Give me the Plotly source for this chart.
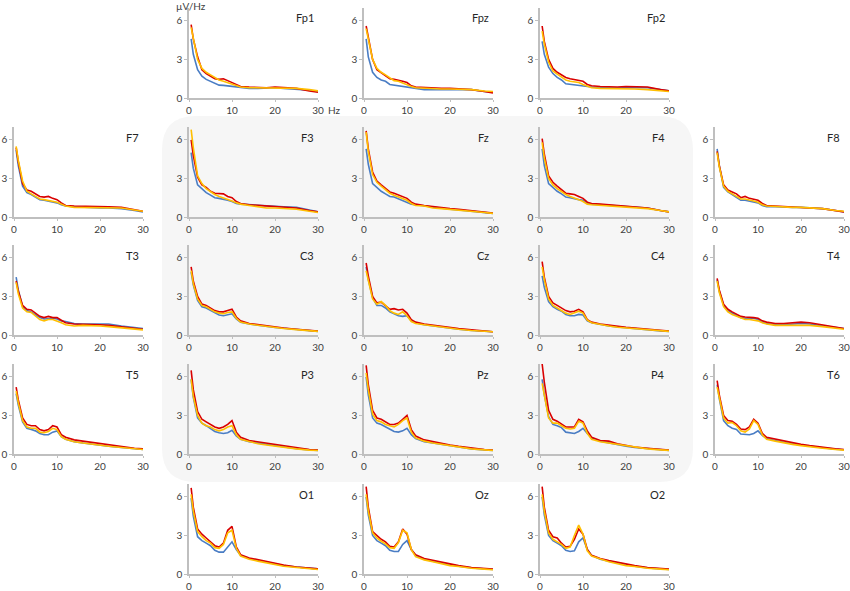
import plotly.graph_objects as go

W, H = 850, 591

freqs = [0.5, 1, 2, 3, 4, 5, 6, 7, 8, 9, 10, 11, 12, 14, 16, 18, 20, 22, 25, 28, 30]

# spectra, µV/Hz
fp1_blue = [4.6, 3.4, 2.2, 1.7, 1.45, 1.3, 1.1, 1.0, 0.98, 0.95, 0.9, 0.85, 0.8, 0.75, 0.75, 0.8, 0.8, 0.75, 0.7, 0.6, 0.5]
fp1_red = [5.7, 4.6, 3.2, 2.2, 1.9, 1.7, 1.5, 1.45, 1.5, 1.35, 1.2, 1.0, 0.9, 0.85, 0.8, 0.8, 0.85, 0.8, 0.75, 0.55, 0.45]
fp1_orange = [5.5, 4.6, 3.0, 2.3, 2.0, 1.8, 1.6, 1.4, 1.3, 1.2, 1.05, 0.95, 0.85, 0.8, 0.8, 0.8, 0.8, 0.8, 0.75, 0.65, 0.55]

fpz_blue = [4.6, 3.2, 2.0, 1.6, 1.4, 1.3, 1.05, 1.0, 0.95, 0.9, 0.85, 0.75, 0.7, 0.65, 0.65, 0.65, 0.7, 0.7, 0.65, 0.5, 0.45]
fpz_red = [5.6, 4.7, 3.0, 2.2, 1.95, 1.75, 1.5, 1.45, 1.4, 1.3, 1.2, 0.95, 0.85, 0.8, 0.75, 0.75, 0.75, 0.7, 0.65, 0.5, 0.4]
fpz_orange = [5.4, 4.6, 3.0, 2.3, 2.0, 1.8, 1.55, 1.35, 1.3, 1.15, 1.0, 0.9, 0.8, 0.75, 0.7, 0.7, 0.7, 0.7, 0.65, 0.55, 0.5]

fp2_blue = [4.4, 3.4, 2.4, 1.9, 1.6, 1.4, 1.1, 1.05, 1.0, 0.95, 0.95, 0.9, 0.85, 0.8, 0.8, 0.8, 0.85, 0.85, 0.8, 0.65, 0.55]
fp2_red = [5.6, 4.4, 3.0, 2.3, 2.0, 1.8, 1.6, 1.5, 1.45, 1.4, 1.3, 1.05, 0.95, 0.9, 0.85, 0.85, 0.9, 0.9, 0.85, 0.65, 0.55]
fp2_orange = [5.2, 4.2, 2.8, 2.1, 1.85, 1.6, 1.4, 1.3, 1.25, 1.2, 1.05, 0.9, 0.8, 0.75, 0.75, 0.75, 0.75, 0.7, 0.65, 0.55, 0.5]

f7_blue = [5.2, 4.0, 2.4, 1.9, 1.75, 1.55, 1.35, 1.3, 1.25, 1.15, 1.1, 0.95, 0.85, 0.8, 0.75, 0.75, 0.7, 0.7, 0.65, 0.5, 0.4]
f7_red = [5.4, 4.3, 2.6, 2.1, 2.0, 1.8, 1.6, 1.55, 1.6, 1.45, 1.35, 1.1, 0.9, 0.85, 0.85, 0.85, 0.85, 0.8, 0.75, 0.55, 0.45]
f7_orange = [5.5, 4.4, 2.8, 2.0, 1.8, 1.6, 1.4, 1.35, 1.3, 1.2, 1.15, 1.0, 0.85, 0.75, 0.75, 0.75, 0.75, 0.7, 0.7, 0.55, 0.45]

f3_blue = [5.0, 3.8, 2.5, 2.2, 1.9, 1.7, 1.5, 1.45, 1.4, 1.3, 1.2, 1.05, 1.0, 0.95, 0.9, 0.85, 0.85, 0.8, 0.75, 0.55, 0.4]
f3_red = [6.0, 4.8, 3.1, 2.5, 2.3, 2.0, 1.85, 1.8, 1.8, 1.6, 1.5, 1.2, 1.05, 0.95, 0.9, 0.85, 0.8, 0.75, 0.7, 0.5, 0.4]
f3_orange = [6.8, 5.4, 3.2, 2.6, 2.2, 1.95, 1.75, 1.6, 1.5, 1.4, 1.25, 1.1, 1.0, 0.9, 0.8, 0.7, 0.7, 0.65, 0.6, 0.45, 0.35]

fz_blue = [5.3, 4.1, 2.6, 2.3, 2.0, 1.8, 1.6, 1.55, 1.4, 1.25, 1.15, 1.0, 0.95, 0.85, 0.75, 0.65, 0.6, 0.55, 0.45, 0.35, 0.28]
fz_red = [6.7, 5.3, 3.5, 2.8, 2.5, 2.2, 1.95, 1.85, 1.7, 1.55, 1.45, 1.15, 1.0, 0.9, 0.8, 0.7, 0.65, 0.6, 0.5, 0.4, 0.3]
fz_orange = [6.6, 5.1, 3.3, 2.7, 2.4, 2.1, 1.85, 1.7, 1.55, 1.4, 1.3, 1.05, 0.9, 0.85, 0.7, 0.65, 0.6, 0.5, 0.45, 0.35, 0.28]

f4_blue = [5.3, 4.0, 2.6, 2.3, 2.0, 1.8, 1.55, 1.5, 1.4, 1.35, 1.3, 1.05, 1.0, 0.95, 0.9, 0.85, 0.85, 0.8, 0.7, 0.5, 0.4]
f4_red = [6.1, 4.9, 3.2, 2.7, 2.4, 2.1, 1.85, 1.8, 1.75, 1.6, 1.45, 1.15, 1.05, 1.0, 0.95, 0.9, 0.85, 0.8, 0.7, 0.5, 0.4]
f4_orange = [5.8, 4.6, 3.0, 2.5, 2.2, 1.95, 1.75, 1.6, 1.5, 1.35, 1.2, 1.0, 0.95, 0.9, 0.85, 0.85, 0.8, 0.75, 0.65, 0.5, 0.4]

f8_blue = [5.3, 4.0, 2.3, 1.95, 1.75, 1.5, 1.3, 1.3, 1.25, 1.15, 1.1, 0.9, 0.8, 0.8, 0.75, 0.75, 0.75, 0.7, 0.65, 0.5, 0.4]
f8_red = [5.1, 4.0, 2.5, 2.1, 1.95, 1.8, 1.5, 1.6, 1.45, 1.4, 1.3, 1.05, 0.9, 0.85, 0.8, 0.8, 0.75, 0.7, 0.65, 0.5, 0.4]
f8_orange = [5.0, 3.9, 2.4, 2.0, 1.8, 1.6, 1.4, 1.4, 1.35, 1.25, 1.15, 0.95, 0.85, 0.8, 0.75, 0.75, 0.75, 0.7, 0.65, 0.5, 0.45]

t3_blue = [4.5, 3.5, 2.2, 1.9, 1.8, 1.6, 1.35, 1.25, 1.3, 1.3, 1.25, 1.1, 1.05, 0.9, 0.85, 0.85, 0.9, 0.85, 0.7, 0.55, 0.5]
t3_red = [4.2, 3.4, 2.3, 2.0, 1.95, 1.7, 1.45, 1.35, 1.45, 1.35, 1.35, 1.15, 0.95, 0.85, 0.85, 0.85, 0.8, 0.75, 0.65, 0.5, 0.45]
t3_orange = [4.1, 3.2, 2.1, 1.8, 1.75, 1.5, 1.2, 1.1, 1.2, 1.2, 1.1, 0.95, 0.8, 0.7, 0.75, 0.75, 0.7, 0.65, 0.55, 0.45, 0.4]

c3_blue = [4.9, 3.9, 2.7, 2.2, 2.1, 1.9, 1.7, 1.55, 1.5, 1.6, 1.65, 1.25, 1.0, 0.85, 0.75, 0.65, 0.58, 0.52, 0.42, 0.33, 0.28]
c3_red = [5.3, 4.2, 3.0, 2.4, 2.3, 2.1, 1.9, 1.8, 1.8, 1.9, 2.0, 1.4, 1.1, 0.9, 0.8, 0.7, 0.6, 0.55, 0.45, 0.35, 0.3]
c3_orange = [5.0, 4.0, 2.8, 2.3, 2.2, 2.0, 1.8, 1.7, 1.65, 1.75, 1.8, 1.3, 1.0, 0.85, 0.75, 0.65, 0.55, 0.5, 0.42, 0.32, 0.28]

cz_blue = [5.3, 4.3, 2.9, 2.3, 2.3, 2.1, 1.8, 1.65, 1.5, 1.45, 1.5, 1.1, 0.95, 0.8, 0.7, 0.6, 0.5, 0.45, 0.35, 0.28, 0.25]
cz_red = [5.6, 4.6, 3.0, 2.5, 2.55, 2.3, 2.0, 2.05, 1.95, 2.0, 1.7, 1.2, 1.0, 0.85, 0.75, 0.65, 0.55, 0.5, 0.4, 0.3, 0.25]
cz_orange = [5.0, 4.2, 2.8, 2.4, 2.6, 2.3, 1.9, 1.7, 1.6, 1.8, 1.5, 1.05, 0.9, 0.8, 0.7, 0.6, 0.5, 0.45, 0.35, 0.28, 0.25]

c4_blue = [4.6, 3.7, 2.6, 2.2, 2.0, 1.85, 1.6, 1.5, 1.5, 1.6, 1.55, 1.1, 0.95, 0.8, 0.7, 0.62, 0.55, 0.5, 0.4, 0.32, 0.28]
c4_red = [5.7, 4.5, 3.0, 2.5, 2.3, 2.1, 1.9, 1.8, 1.85, 2.0, 1.8, 1.2, 1.0, 0.85, 0.75, 0.65, 0.6, 0.55, 0.45, 0.35, 0.3]
c4_orange = [5.3, 4.3, 2.8, 2.3, 2.1, 1.9, 1.7, 1.6, 1.7, 1.85, 1.7, 1.15, 0.95, 0.8, 0.7, 0.6, 0.55, 0.5, 0.4, 0.32, 0.28]

t4_blue = [4.3, 3.4, 2.3, 1.9, 1.7, 1.5, 1.35, 1.3, 1.3, 1.3, 1.2, 1.0, 0.9, 0.8, 0.8, 0.85, 0.9, 0.85, 0.7, 0.55, 0.5]
t4_red = [4.4, 3.5, 2.4, 2.0, 1.8, 1.6, 1.45, 1.4, 1.4, 1.35, 1.3, 1.1, 1.0, 0.9, 0.9, 0.95, 1.0, 0.95, 0.8, 0.6, 0.5]
t4_orange = [4.2, 3.3, 2.2, 1.8, 1.6, 1.45, 1.3, 1.2, 1.2, 1.15, 1.1, 0.95, 0.85, 0.75, 0.75, 0.8, 0.8, 0.75, 0.65, 0.5, 0.45]

t5_blue = [4.7, 3.8, 2.5, 2.0, 1.9, 1.8, 1.6, 1.5, 1.5, 1.7, 1.8, 1.35, 1.15, 0.95, 0.85, 0.75, 0.65, 0.6, 0.5, 0.4, 0.35]
t5_red = [5.2, 4.2, 2.8, 2.3, 2.2, 2.2, 1.9, 1.8, 1.9, 2.2, 2.1, 1.5, 1.3, 1.1, 1.0, 0.9, 0.8, 0.7, 0.55, 0.45, 0.4]
t5_orange = [4.9, 4.0, 2.6, 2.1, 2.0, 2.0, 1.7, 1.65, 1.75, 2.0, 1.9, 1.35, 1.15, 0.95, 0.85, 0.75, 0.65, 0.6, 0.5, 0.4, 0.35]

p3_blue = [5.8, 4.4, 2.8, 2.4, 2.2, 2.0, 1.75, 1.65, 1.6, 1.65, 1.85, 1.4, 1.15, 0.95, 0.85, 0.75, 0.65, 0.55, 0.42, 0.32, 0.28]
p3_red = [6.5, 5.0, 3.3, 2.7, 2.5, 2.3, 2.1, 2.0, 2.1, 2.3, 2.6, 1.7, 1.3, 1.05, 0.95, 0.85, 0.7, 0.6, 0.45, 0.35, 0.3]
p3_orange = [5.8, 4.5, 3.0, 2.4, 2.2, 2.1, 1.9, 1.8, 1.9, 2.1, 2.2, 1.5, 1.15, 0.95, 0.8, 0.7, 0.6, 0.5, 0.4, 0.3, 0.27]

pz_blue = [6.0, 4.6, 2.8, 2.4, 2.3, 2.1, 1.9, 1.75, 1.7, 1.8, 2.0, 1.5, 1.2, 0.95, 0.85, 0.75, 0.62, 0.52, 0.4, 0.32, 0.28]
pz_red = [6.9, 5.4, 3.4, 2.8, 2.7, 2.5, 2.3, 2.3, 2.4, 2.7, 3.0, 1.9, 1.4, 1.1, 0.95, 0.85, 0.7, 0.6, 0.45, 0.35, 0.3]
pz_orange = [6.3, 5.0, 3.1, 2.6, 2.5, 2.3, 2.2, 2.1, 2.3, 2.6, 2.8, 1.7, 1.25, 1.0, 0.85, 0.75, 0.62, 0.52, 0.4, 0.32, 0.28]

p4_blue = [5.8, 4.6, 2.9, 2.3, 2.2, 2.05, 1.7, 1.65, 1.6, 1.75, 2.0, 1.6, 1.25, 1.0, 0.85, 0.7, 0.6, 0.5, 0.4, 0.32, 0.28]
p4_red = [7.0, 5.6, 3.4, 2.7, 2.55, 2.35, 2.1, 2.1, 2.1, 2.7, 2.5, 1.8, 1.3, 1.05, 1.0, 0.8, 0.65, 0.55, 0.45, 0.35, 0.3]
p4_orange = [5.5, 4.5, 2.8, 2.4, 2.4, 2.2, 2.0, 1.95, 2.0, 2.55, 2.4, 1.6, 1.15, 0.95, 0.85, 0.7, 0.6, 0.5, 0.4, 0.32, 0.28]

t6_blue = [5.4, 4.3, 2.6, 2.2, 2.0, 1.9, 1.55, 1.5, 1.5, 1.6, 1.8, 1.45, 1.2, 1.05, 0.9, 0.8, 0.7, 0.6, 0.48, 0.38, 0.33]
t6_red = [5.7, 4.6, 3.0, 2.6, 2.55, 2.3, 1.95, 1.9, 2.1, 2.7, 2.4, 1.6, 1.3, 1.15, 1.0, 0.9, 0.75, 0.65, 0.5, 0.4, 0.35]
t6_orange = [5.2, 4.3, 2.8, 2.4, 2.45, 2.2, 1.8, 1.7, 1.95, 2.6, 2.3, 1.5, 1.15, 1.0, 0.85, 0.75, 0.65, 0.55, 0.45, 0.35, 0.3]

o1_blue = [5.9, 4.5, 2.9, 2.6, 2.4, 2.2, 1.85, 1.7, 1.7, 2.1, 2.5, 1.9, 1.45, 1.2, 1.05, 0.9, 0.75, 0.65, 0.55, 0.45, 0.4]
o1_red = [6.7, 5.2, 3.5, 3.1, 2.8, 2.5, 2.2, 2.1, 2.4, 3.4, 3.7, 2.1, 1.5, 1.25, 1.1, 0.95, 0.8, 0.7, 0.55, 0.45, 0.4]
o1_orange = [6.2, 4.9, 3.3, 2.9, 2.6, 2.4, 2.05, 2.0, 2.3, 3.2, 3.4, 2.0, 1.4, 1.15, 1.0, 0.85, 0.7, 0.6, 0.5, 0.4, 0.35]

oz_blue = [6.0, 4.6, 3.0, 2.6, 2.4, 2.2, 1.85, 1.75, 1.75, 2.3, 2.6, 1.9, 1.45, 1.15, 1.0, 0.85, 0.7, 0.6, 0.48, 0.4, 0.35]
oz_red = [6.8, 5.2, 3.3, 3.0, 2.7, 2.5, 2.15, 2.1, 2.5, 3.5, 3.1, 1.9, 1.5, 1.2, 1.05, 0.9, 0.75, 0.65, 0.5, 0.42, 0.38]
oz_orange = [6.2, 4.9, 3.2, 2.8, 2.55, 2.35, 2.05, 2.0, 2.45, 3.4, 3.2, 1.9, 1.35, 1.1, 0.95, 0.8, 0.65, 0.58, 0.45, 0.38, 0.33]

o2_blue = [6.0, 4.6, 3.0, 2.6, 2.4, 2.2, 1.85, 1.75, 1.8, 2.5, 2.8, 1.9, 1.45, 1.15, 1.0, 0.85, 0.7, 0.6, 0.48, 0.4, 0.35]
o2_red = [6.8, 5.2, 3.4, 2.9, 2.8, 2.4, 2.1, 2.15, 2.7, 3.5, 3.1, 1.9, 1.45, 1.2, 1.05, 0.9, 0.75, 0.65, 0.5, 0.42, 0.38]
o2_orange = [6.2, 4.9, 3.2, 2.7, 2.5, 2.3, 2.0, 2.1, 3.0, 3.8, 3.1, 1.8, 1.4, 1.15, 0.95, 0.8, 0.65, 0.58, 0.45, 0.38, 0.33]

# name, grid row, grid column, series
panels = [
    ("Fp1", 0, 1, fp1_blue, fp1_red, fp1_orange),
    ("Fpz", 0, 2, fpz_blue, fpz_red, fpz_orange),
    ("Fp2", 0, 3, fp2_blue, fp2_red, fp2_orange),
    ("F7", 1, 0, f7_blue, f7_red, f7_orange),
    ("F3", 1, 1, f3_blue, f3_red, f3_orange),
    ("Fz", 1, 2, fz_blue, fz_red, fz_orange),
    ("F4", 1, 3, f4_blue, f4_red, f4_orange),
    ("F8", 1, 4, f8_blue, f8_red, f8_orange),
    ("T3", 2, 0, t3_blue, t3_red, t3_orange),
    ("C3", 2, 1, c3_blue, c3_red, c3_orange),
    ("Cz", 2, 2, cz_blue, cz_red, cz_orange),
    ("C4", 2, 3, c4_blue, c4_red, c4_orange),
    ("T4", 2, 4, t4_blue, t4_red, t4_orange),
    ("T5", 3, 0, t5_blue, t5_red, t5_orange),
    ("P3", 3, 1, p3_blue, p3_red, p3_orange),
    ("Pz", 3, 2, pz_blue, pz_red, pz_orange),
    ("P4", 3, 3, p4_blue, p4_red, p4_orange),
    ("T6", 3, 4, t6_blue, t6_red, t6_orange),
    ("O1", 4, 1, o1_blue, o1_red, o1_orange),
    ("Oz", 4, 2, oz_blue, oz_red, oz_orange),
    ("O2", 4, 3, o2_blue, o2_red, o2_orange),
]

BLUE, RED, ORANGE = "#4a7dc4", "#d90000", "#ffbf00"
FONT = "Lato, Open Sans, sans-serif"
col_left = [14, 189, 364, 540, 715]     # pixel x of f = 0
row_base = [98, 217, 335, 454, 574]     # pixel y of value 0
plot_w, plot_h = 129, 90


def px(x):
    return x / W


def py(y):
    return 1 - y / H


fig = go.Figure()
layout = {}
annotations = []

for n, (name, r, c, blue, red, orange) in enumerate(panels, start=1):
    xa, ya = f"x{n}", f"y{n}"
    x0 = col_left[c]
    y0 = row_base[r]
    layout[f"xaxis{n}"] = dict(
        domain=[px(x0), px(x0 + plot_w)], anchor=ya, range=[0, 30],
        tickvals=[0, 10, 20, 30], ticks="outside", ticklen=2, tickcolor="#bfbfbf",
        showline=True, linecolor="#bfbfbf", linewidth=1.5, showgrid=False,
        zeroline=False, automargin=False,
        tickfont=dict(size=10, color="#404040", family=FONT),
    )
    layout[f"yaxis{n}"] = dict(
        domain=[py(y0), py(y0 - plot_h)], anchor=xa, range=[0, 7],
        tickvals=[0, 3, 6], ticks="outside", ticklen=3, tickcolor="#bfbfbf",
        showline=True, linecolor="#bfbfbf", linewidth=1.5, showgrid=False,
        zeroline=False, automargin=False,
        tickfont=dict(size=10, color="#404040", family=FONT),
    )
    for vals, color in [(blue, BLUE), (red, RED), (orange, ORANGE)]:
        fig.add_trace(go.Scatter(
            x=freqs, y=vals, mode="lines", xaxis=xa, yaxis=ya,
            line=dict(color=color, width=1.6), showlegend=False, hoverinfo="skip",
        ))
    annotations.append(dict(
        text=name, xref="paper", yref="paper", x=px(x0 + 127), y=py(y0 - 80),
        xanchor="right", yanchor="middle", showarrow=False,
        font=dict(size=11, color="#262626", family=FONT),
    ))

annotations.append(dict(
    text="µV/Hz", xref="paper", yref="paper", x=px(174), y=py(6),
    xanchor="left", yanchor="middle", showarrow=False,
    font=dict(size=10, color="#404040", family=FONT),
))
annotations.append(dict(
    text="Hz", xref="paper", yref="paper", x=px(326), y=py(110),
    xanchor="left", yanchor="middle", showarrow=False,
    font=dict(size=10, color="#404040", family=FONT),
))

# rounded grey box behind the central 3x3 block
L, R, T, B, rad = 162, 693, 116, 482, 34
rx, ry = rad / W, rad / H
box = (
    f"M {px(L + rad)} {py(T)} L {px(R - rad)} {py(T)} "
    f"Q {px(R)} {py(T)} {px(R)} {py(T) - ry} L {px(R)} {py(B) + ry} "
    f"Q {px(R)} {py(B)} {px(R) - rx} {py(B)} L {px(L) + rx} {py(B)} "
    f"Q {px(L)} {py(B)} {px(L)} {py(B) + ry} L {px(L)} {py(T) - ry} "
    f"Q {px(L)} {py(T)} {px(L) + rx} {py(T)} Z"
)

fig.update_layout(
    width=W, height=H, margin=dict(l=0, r=0, t=0, b=0, autoexpand=False),
    paper_bgcolor="white", plot_bgcolor="rgba(0,0,0,0)",
    annotations=annotations,
    shapes=[dict(type="path", path=box, xref="paper", yref="paper",
                 fillcolor="#f6f6f6", line=dict(width=0), layer="below")],
    **layout,
)

# the page body has an 8px default margin; drop it so the figure sits at 0,0
fig.write_html("out.html", config={"displayModeBar": False},
               post_script="document.body.style.margin='0';")
